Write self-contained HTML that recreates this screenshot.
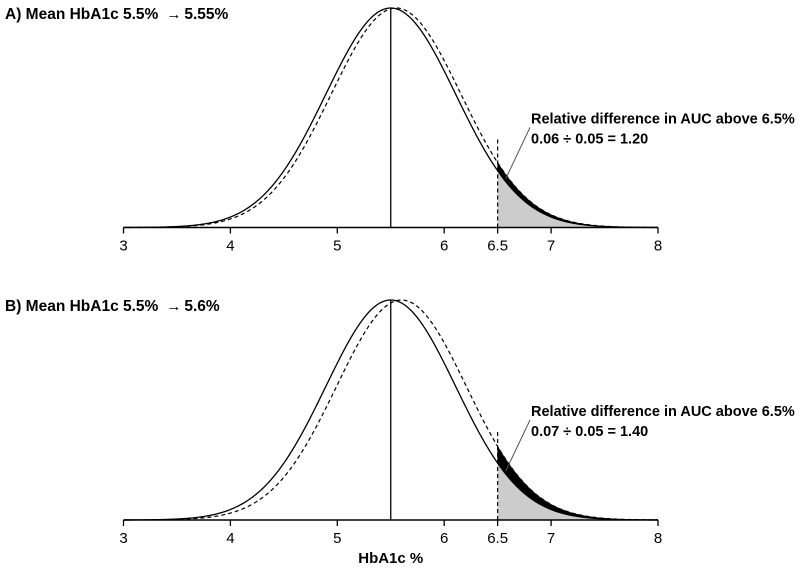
<!DOCTYPE html>
<html><head><meta charset="utf-8"><style>
body{margin:0;background:#fff}
svg{display:block;font-family:"Liberation Sans",Arial,sans-serif}
</style></head><body>
<svg id="c" width="800" height="569" viewBox="0 0 800 569"></svg>
<script>
const ticks=[3,4,5,6,6.5,7,8];
const baseMean=5.5;
const shiftedMeans=[5.55,5.6];
const sd=0.608;
const threshold=6.5;
const titlesA=["A) Mean HbA1c 5.5%","B) Mean HbA1c 5.5%"];
const titlesB=["5.55%","5.6%"];
const ratioLabels=["0.06 \u00f7 0.05 = 1.20","0.07 \u00f7 0.05 = 1.40"];
const NS="http://www.w3.org/2000/svg";
const svg=document.getElementById('c');
function el(t,a,p){const e=document.createElementNS(NS,t);for(const k in a)e.setAttribute(k,a[k]);(p||svg).appendChild(e);return e;}
const X=v=>123.5+(v-3)*106.9;
function pdf(x,m){return Math.exp(-0.5*((x-m)/sd)**2);}
const panels=[{base:227.5,top:8},{base:520,top:300}];
panels.forEach((p,i)=>{
  const g=el('g',{});
  
  
  const Y=v=>p.base-v*(p.base-p.top);
  const m2=shiftedMeans[i];
  function path(m,x0,x1){let d='';for(let x=x0;x<=x1+1e-9;x+=0.01){d+=(d?'L':'M')+X(x).toFixed(2)+','+Y(pdf(x,m)).toFixed(2);}return d;}
  let gA=path(baseMean,threshold,8)+'L'+X(8)+','+p.base+'L'+X(threshold)+','+p.base+'Z';
  const ga=el('path',{d:gA,fill:'#cccccc',stroke:'none'},g);
  
  
  let up=[],dn=[];for(let x=threshold;x<=8+1e-9;x+=0.01){up.push(X(x).toFixed(2)+','+Y(pdf(x,m2)).toFixed(2));dn.unshift(X(x).toFixed(2)+','+Y(pdf(x,baseMean)).toFixed(2));}
  const ba=el('path',{d:'M'+up.join('L')+'L'+dn.join('L')+'Z',fill:'#000',stroke:'#000','stroke-width':0.6},g);
  
  
  const c1=el('path',{d:path(baseMean,3,8),fill:'none',stroke:'#000','stroke-width':1.3},g);
  
  
  const c2=el('path',{d:path(m2,3,8),fill:'none',stroke:'#000','stroke-width':1.2,'stroke-dasharray':'4,3'},g);
  
  
  const ml=el('line',{x1:X(baseMean),x2:X(baseMean),y1:p.base,y2:p.top,stroke:'#000','stroke-width':1.3},g);
  
  
  const tl=el('line',{x1:X(threshold),x2:X(threshold),y1:p.base,y2:p.base-88,stroke:'#000','stroke-width':1.2,'stroke-dasharray':'4,3'},g);
  
  
  const ax=el('line',{x1:X(3),x2:X(8),y1:p.base,y2:p.base,stroke:'#000','stroke-width':1.5},g);
  
  
  ticks.forEach(t=>{
    const tk=el('line',{x1:X(t),x2:X(t),y1:p.base,y2:p.base+6,stroke:'#000','stroke-width':1.3},g);
    
    
    const tx=el('text',{x:X(t),y:p.base+23,'text-anchor':'middle','font-size':15},g);
    tx.textContent=t;
    
    
  });
  const ti=el('text',{x:5,y:p.top+11,'font-size':15.5,'font-weight':'bold'},g);
  ti.textContent=titlesA[i];
  const ar2=el('tspan',{'font-size':15,'font-weight':'normal',dx:8},ti);
  ar2.textContent='\u2192';
  const t2=el('tspan',{dx:3},ti);
  t2.textContent=titlesB[i];
  
  
  const hx=X(threshold)+8, hy=Y(pdf(threshold+0.07,baseMean))-2;
  const ar=el('line',{x1:hx,y1:hy,x2:530,y2:p.base-100,stroke:'#555','stroke-width':1},g);
  
  
  const a1=el('text',{x:531,y:p.base-104,'font-size':14.5,'font-weight':'bold'},g);
  a1.textContent='Relative difference in AUC above 6.5%';
  
  
  const a2=el('text',{x:531,y:p.base-84,'font-size':14.5,'font-weight':'bold'},g);
  a2.textContent=ratioLabels[i];
  
  
});
const xt=el('text',{x:X(5.5),y:563,'text-anchor':'middle','font-size':15,'font-weight':'bold'});
xt.textContent='HbA1c %';


</script>
</body></html>
